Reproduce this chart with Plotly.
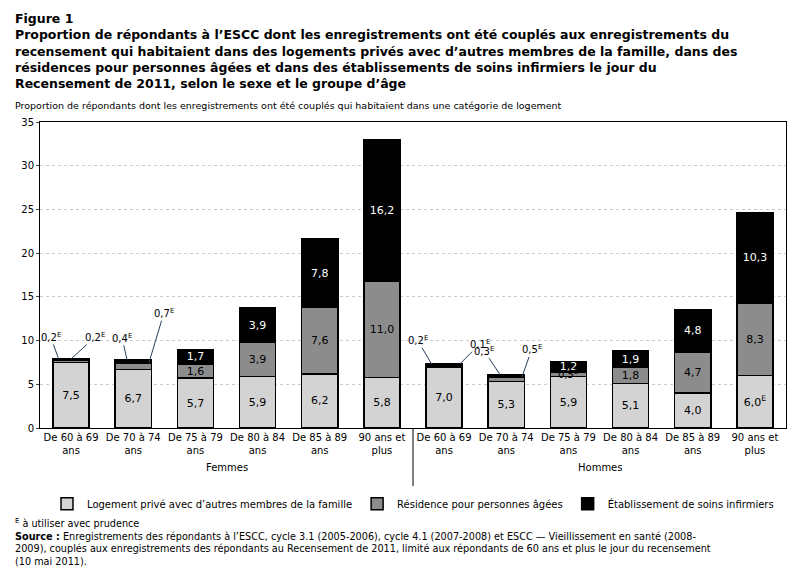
import plotly.graph_objects as go

categories = ["De 60 à 69<br>ans", "De 70 à 74<br>ans", "De 75 à 79<br>ans", "De 80 à 84<br>ans", "De 85 à 89<br>ans", "90 ans et<br>plus"] * 2
groups = ["Femmes", "Hommes"]
prive = [7.5, 6.7, 5.7, 5.9, 6.2, 5.8, 7.0, 5.3, 5.9, 5.1, 4.0, 6.0]
residence = [0.2, 0.7, 1.6, 3.9, 7.6, 11.0, 0.1, 0.5, 0.5, 1.8, 4.7, 8.3]
etablissement = [0.2, 0.4, 1.7, 3.9, 7.8, 16.2, 0.2, 0.3, 1.2, 1.9, 4.8, 10.3]
prive_e = [False] * 11 + [True]
res_show = [False, False, True, True, True, True, False, False, False, True, True, True]
etab_show = [False, False, True, True, True, True, False, False, True, True, True, True]

F = "DejaVu Sans"
FS = 10
x = list(range(12))

def fmt(v, e=False):
    s = f"{v:.1f}".replace(".", ",")
    return s + ("<sup>E</sup>" if e else "")

fig = go.Figure()
series = [
    ("Logement privé avec d’autres membres de la famille", prive, "#d3d3d3", "black",
     [fmt(v, e) for v, e in zip(prive, prive_e)]),
    ("Résidence pour personnes âgées", residence, "#8c8c8c", "black",
     [fmt(v) if s else "" for v, s in zip(residence, res_show)]),
    ("Établissement de soins infirmiers", etablissement, "#000000", "white",
     [fmt(v) if s else "" for v, s in zip(etablissement, etab_show)]),
]
for name, vals, col, tc, txt in series:
    fig.add_trace(go.Bar(x=x, y=vals, name=name, width=0.58,
                         marker=dict(color=col, line=dict(color="black", width=1.5)),
                         text=txt, textposition="inside", insidetextanchor="middle",
                         textangle=0, textfont=dict(color=tc, size=FS + 1, family=F),
                         cliponaxis=False))

anns = []
tot = lambda i, lvl: sum([prive, residence, etablissement][k][i] for k in range(lvl + 1))
small = [
    (0, 2, "0,2<sup>E</sup>", -8, -22, -0.2),
    (0, 2, "0,2<sup>E</sup>", 24, -22, 0.0),
    (1, 2, "0,4<sup>E</sup>", -5, -22, -0.1),
    (1, 1, "0,7<sup>E</sup>", 15, -50, 0.25),
    (6, 2, "0,2<sup>E</sup>", -14, -24, -0.2),
    (6, 2, "0,1<sup>E</sup>", 20, -20, 0.25),
    (7, 2, "0,3<sup>E</sup>", -16, -24, -0.1),
    (7, 1, "0,5<sup>E</sup>", 10, -28, 0.25),
]
for i, lvl, t, ax, ay, dx in small:
    anns.append(dict(x=x[i] + dx, y=tot(i, lvl), text=t, showarrow=True, arrowhead=0,
                     arrowwidth=1, ax=ax, ay=ay, font=dict(size=FS, family=F)))
anns.append(dict(x=x[8], y=prive[8] + residence[8] / 2, text="0,5<sup>E</sup>", showarrow=False,
                 font=dict(size=FS, family=F)))
for gi, g in enumerate(groups):
    anns.append(dict(x=2.5 + 6 * gi, y=-0.155, yref="paper", text=g, showarrow=False,
                     font=dict(size=FS, family=F)))
title = ("<b>Figure 1<br>Proportion de répondants à l’ESCC dont les enregistrements ont été couplés aux enregistrements du<br>"
         "recensement qui habitaient dans des logements privés avec d’autres membres de la famille, dans des<br>"
         "résidences pour personnes âgées et dans des établissements de soins infirmiers le jour du<br>"
         "Recensement de 2011, selon le sexe et le groupe d’âge</b>")
anns.append(dict(x=-0.036, y=1.37, xref="paper", yref="paper", xanchor="left", yanchor="top", text=title,
                 showarrow=False, align="left", font=dict(size=12.5, family=F, color="black")))
anns.append(dict(x=-0.036, y=1.08, xref="paper", yref="paper", xanchor="left", yanchor="top",
                 text="Proportion de répondants dont les enregistrements ont été couplés qui habitaient dans une catégorie de logement",
                 showarrow=False, align="left", font=dict(size=9.5, family=F)))
foot = ("<sup>E</sup> à utiliser avec prudence<br><b>Source :</b> Enregistrements des répondants à l’ESCC, cycle 3.1 (2005-2006), cycle 4.1 (2007-2008) et ESCC — Vieillissement en santé (2008-<br>"
        "2009), couplés aux enregistrements des répondants au Recensement de 2011, limité aux répondants de 60 ans et plus le jour du recensement<br>(10 mai 2011).")
anns.append(dict(x=-0.036, y=-0.285, xref="paper", yref="paper", xanchor="left", yanchor="top", text=foot,
                 showarrow=False, align="left", font=dict(size=9.7, family=F)))

fig.update_layout(
    width=795, height=568, margin=dict(l=32, r=17, t=114, b=148),
    paper_bgcolor="white", plot_bgcolor="white", barmode="stack",
    font=dict(family=F, size=FS, color="black"),
    annotations=anns,
    uniformtext=dict(minsize=FS + 1, mode="show"),
    showlegend=True,
    legend=dict(orientation="h", x=0.5, xanchor="center", y=-0.2, yanchor="top",
                font=dict(size=FS, family=F), traceorder="normal",
                itemwidth=30, tracegroupgap=0),
    shapes=[dict(type="line", xref="x", yref="paper", x0=5.5, x1=5.5, y0=0, y1=-0.19,
                 line=dict(color="black", width=1))],
    xaxis=dict(tickvals=x, ticktext=categories, range=[-0.5, 11.5], showline=True, linecolor="black",
               mirror=True, ticks="", tickangle=0, tickfont=dict(size=FS, family=F)),
    yaxis=dict(range=[0, 35], dtick=5, showline=True, linecolor="black", mirror=True,
               gridcolor="#cccccc", griddash="dot", ticks="outside", ticklen=3,
               tickfont=dict(size=FS, family=F), zeroline=False),
)
fig.write_html("out.html")
